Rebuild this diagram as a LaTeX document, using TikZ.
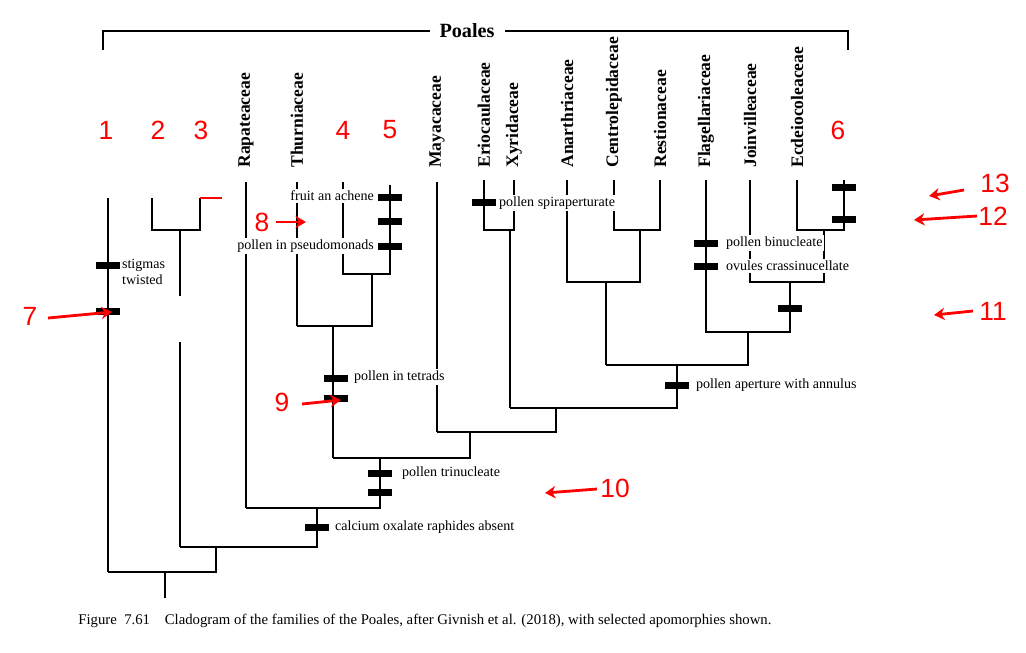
\documentclass[tikz,border=0pt]{standalone}
\usepackage{fontspec}
\setmainfont{Liberation Serif}
\newfontfamily\redsans{Liberation Sans}
\usetikzlibrary{arrows.meta}
\begin{document}
\begin{tikzpicture}[x=0.02cm,y=-0.02cm,
  br/.style={line width=0.6pt},
  lab/.style={font=\fontsize{8}{9}\selectfont,fill=white,inner sep=1pt,anchor=west},
  taxon/.style={font=\fontsize{10}{10}\selectfont\bfseries,rotate=90,anchor=west,inner sep=0pt},
  num/.style={font=\redsans\fontsize{15}{15}\selectfont,text=red},
  rarr/.style={red,line width=1.6pt,-{Stealth[length=6pt,width=7pt]}}]
\useasboundingbox (0,0) rectangle (1026,652);
% bracket
\draw[line width=1.4pt] (103,50) -- (103,31) -- (430,31);
\draw[line width=1.4pt] (505,31) -- (848,31) -- (848,50);
\node[font=\fontsize{11.5}{11.5}\selectfont\bfseries] (poales) at (467,31) {Poales};
% taxa
\foreach \x/\t in {246/Rapateaceae,297/Thurniaceae,437/Mayacaceae,484/Eriocaulaceae,514/Xyridaceae,567/Anarthriaceae,614/Centrolepidaceae,660/Restionaceae,706/Flagellariaceae,750/Joinvilleaceae,797/Ecdeiocoleaceae}
  \node[taxon] at (\x,168) {\t};
% tree
\draw[br] (108,198) -- (108,572);
\draw[br] (152,198) -- (152,230) -- (200,230) -- (200,198);
\draw[br] (180,230) -- (180,547);
\draw[red,line width=1pt] (200,198) -- (222,198);
\draw[br] (246,182) -- (246,508);
\draw[br] (297,182) -- (297,326);
\draw[br] (343,182) -- (343,274) -- (390,274) -- (390,185);
\draw[br] (297,326) -- (372,326) -- (372,274);
\draw[br] (333,326) -- (333,458);
\draw[br] (437,182) -- (437,432);
\draw[br] (484,180) -- (484,230) -- (514,230) -- (514,180);
\draw[br] (510,230) -- (510,408);
\draw[br] (614,180) -- (614,230) -- (660,230) -- (660,180);
\draw[br] (567,180) -- (567,282) -- (640,282) -- (640,230);
\draw[br] (606,282) -- (606,365);
\draw[br] (797,180) -- (797,230) -- (844,230) -- (844,180);
\draw[br] (750,180) -- (750,282) -- (824,282) -- (824,230);
\draw[br] (706,180) -- (706,332) -- (790,332) -- (790,282);
\draw[br] (606,365) -- (748,365) -- (748,332);
\draw[br] (510,408) -- (677,408) -- (677,365);
\draw[br] (437,432) -- (556,432) -- (556,408);
\draw[br] (333,458) -- (470,458) -- (470,432);
\draw[br] (246,508) -- (380,508) -- (380,458);
\draw[br] (180,547) -- (317,547) -- (317,508);
\draw[br] (108,572) -- (216,572) -- (216,547);
\draw[br] (165,572) -- (165,598);
% erased area
\fill[white] (121,296) rectangle (186,342);
% apomorphy marks
\foreach \x/\y in {108/265,108/311,390/197,390/221,390/246,484/202,706/243,706/266,844/187,844/219,790/308,336/378,336/398,380/473,380/492,317/527,677/385}
  \fill (\x-12,\y-3.5) rectangle (\x+12,\y+3.5);
% apomorphy labels
\node[lab,align=left] at (120,272) {stigmas\\twisted};
\node[lab,anchor=east] at (376,196) {fruit an achene};
\node[lab,anchor=east] at (376,246) {pollen in pseudomonads};
\node[lab] at (497,203) {pollen spiraperturate};
\node[lab] at (724,243) {pollen binucleate};
\node[lab] at (724,266) {ovules crassinucellate};
\node[lab] at (352,377) {pollen in tetrads};
\node[lab] at (400,473) {pollen trinucleate};
\node[lab] at (333,527) {calcium oxalate raphides absent};
\node[lab] at (694,385) {pollen aperture with annulus};
% red numbers and arrows
\foreach \x/\y/\n in {106/130/1,158/130/2,201/130/3,343/130/4,390/130/5,838/130/6,30/316/7,262/222/8,282/402/9,615/488/10,993/311/11,993/216/12,995/183/13}
  \node[num] at (\x,\y) {\n};
\draw[rarr] (48,318) -- (112,312);
\draw[rarr] (276,222) -- (306,222);
\draw[rarr] (302,404) -- (341,400);
\draw[rarr] (597,489) -- (545,493);
\draw[rarr] (973,311) -- (934,315);
\draw[rarr] (977,216) -- (914,220);
\draw[rarr] (964,190) -- (929,196);
% caption
\node[font=\fontsize{8.4}{9}\selectfont,anchor=west,inner sep=0pt] at (78,621)
  {Figure\ \ 7.61\quad Cladogram of the families of the Poales, after Givnish et al. (2018), with selected apomorphies shown.};
\end{tikzpicture}
\end{document}
